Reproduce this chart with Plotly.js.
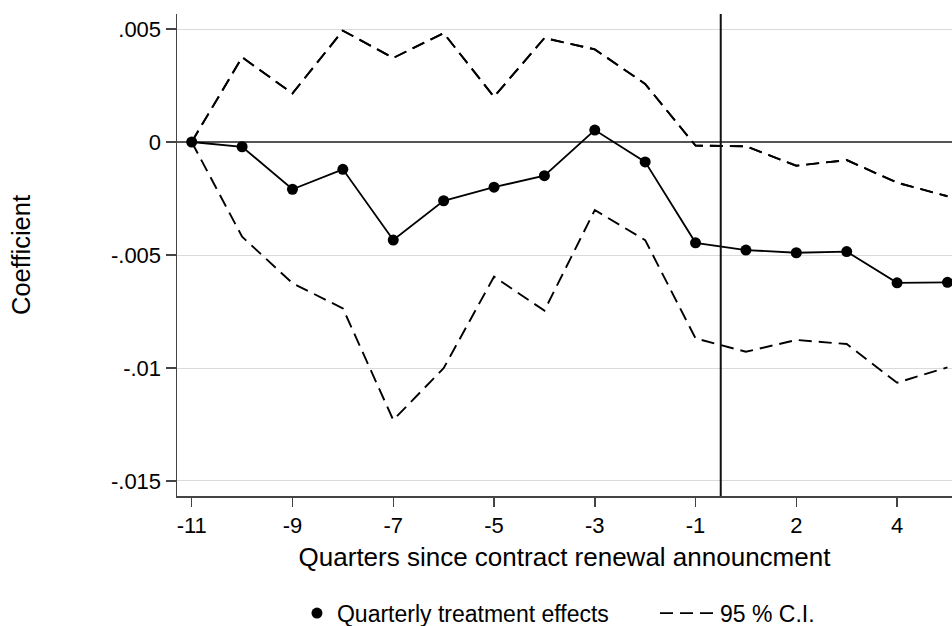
<!DOCTYPE html>
<html>
<head>
<meta charset="utf-8">
<script src="https://cdn.plot.ly/plotly-3.0.1.min.js"></script>
<style>html,body{margin:0;padding:0;background:#fff;}#chart{width:952px;height:626px;}</style>
</head>
<body>
<div id="chart"></div>
<script>
// Quarters relative to announcement (no quarter 0)
const quarters = ['-11','-10','-9','-8','-7','-6','-5','-4','-3','-2','-1','1','2','3','4','5'];
const coef = [0, -0.00021, -0.00209, -0.00121, -0.00434, -0.0026, -0.002, -0.00149, 0.00053, -0.00088, -0.00446, -0.00478, -0.0049, -0.00485, -0.00623, -0.00621];
const ciUpper = [0, 0.00375, 0.00215, 0.00493, 0.00372, 0.00482, 0.0020, 0.0046, 0.0041, 0.00257, -0.00016, -0.00019, -0.00105, -0.0008, -0.0018, -0.0024];
const ciLower = [0, -0.00419, -0.00625, -0.00736, -0.0123, -0.01001, -0.00596, -0.00746, -0.00301, -0.00434, -0.00869, -0.00928, -0.00876, -0.00894, -0.01065, -0.00997];
const xTickLabels = ['-11','-9','-7','-5','-3','-1','2','4'];
const yTickVals = [-0.015, -0.01, -0.005, 0, 0.005];
const yTickText = ['-.015', '-.01', '-.005', '0', '.005'];

const FONT = 'Liberation Sans, Arial, sans-serif';
const dashStyle = '13px,7px';

const traces = [
  {x: quarters, y: ciUpper, type: 'scatter', mode: 'lines', name: '95 % C.I.',
   line: {color: '#000', width: 1.9, dash: dashStyle}, showlegend: false},
  {x: quarters, y: ciLower, type: 'scatter', mode: 'lines', name: '95 % C.I.',
   line: {color: '#000', width: 1.9, dash: dashStyle}, showlegend: false},
  {x: quarters, y: coef, type: 'scatter', mode: 'lines', name: 'Quarterly treatment effects',
   line: {color: '#000', width: 1.8}, showlegend: false},
  {x: quarters, y: coef, type: 'scatter', mode: 'markers', name: 'Quarterly treatment effects',
   marker: {color: '#000', size: 11}, showlegend: true, legend: 'legend'},
  {x: quarters, y: ciUpper, type: 'scatter', mode: 'lines', name: '95 % C.I.',
   line: {color: '#000', width: 1.9, dash: dashStyle}, showlegend: true, legend: 'legend2', hoverinfo: 'skip'}
];

const legendFont = {family: FONT, size: 23, color: '#000'};
const layout = {
  width: 952, height: 626,
  margin: {l: 177, r: 0, t: 14, b: 130, autoexpand: false},
  paper_bgcolor: '#fff', plot_bgcolor: '#fff',
  font: {family: FONT, color: '#000', size: 22},
  showlegend: true,
  legend: {orientation: 'h', x: 0.1548, xanchor: 'left', y: -0.243, yanchor: 'middle',
           font: legendFont, bgcolor: 'rgba(0,0,0,0)'},
  legend2: {orientation: 'h', x: (655 - 177) / 775, xanchor: 'left', y: -0.243, yanchor: 'middle',
           itemwidth: 55,
           font: legendFont, bgcolor: 'rgba(0,0,0,0)'},
  xaxis: {
    type: 'category', categoryorder: 'array', categoryarray: quarters,
    range: [-0.292, 15.09], tickmode: 'array', tickvals: xTickLabels, ticktext: xTickLabels,
    showgrid: false, zeroline: false, showline: true, linecolor: '#444', linewidth: 1.5,
    ticks: 'outside', ticklen: 9, tickwidth: 1.5, tickcolor: '#444',
    tickfont: {family: FONT, size: 22, color: '#000'},
    title: {text: 'Quarters since contract renewal announcment', font: {family: FONT, size: 26, color: '#000'}, standoff: 11}
  },
  yaxis: {
    range: [-0.015664, 0.005664], tickmode: 'array', tickvals: yTickVals, ticktext: yTickText,
    showgrid: true, gridcolor: '#dadada', gridwidth: 1,
    zeroline: true, zerolinecolor: '#555', zerolinewidth: 2,
    showline: true, linecolor: '#444', linewidth: 1.5,
    ticks: 'outside', ticklen: 10, tickwidth: 1.5, tickcolor: '#444',
    tickfont: {family: FONT, size: 22, color: '#000'},
    title: {text: 'Coefficient', font: {family: FONT, size: 25.5, color: '#000'}, standoff: 73}
  },
  shapes: [
    {type: 'line', xref: 'x', yref: 'paper', x0: 10.5, x1: 10.5, y0: 0, y1: 1,
     line: {color: '#111', width: 2}}
  ]
};

Plotly.newPlot('chart', traces, layout, {displayModeBar: false, staticPlot: true});
</script>
</body>
</html>
